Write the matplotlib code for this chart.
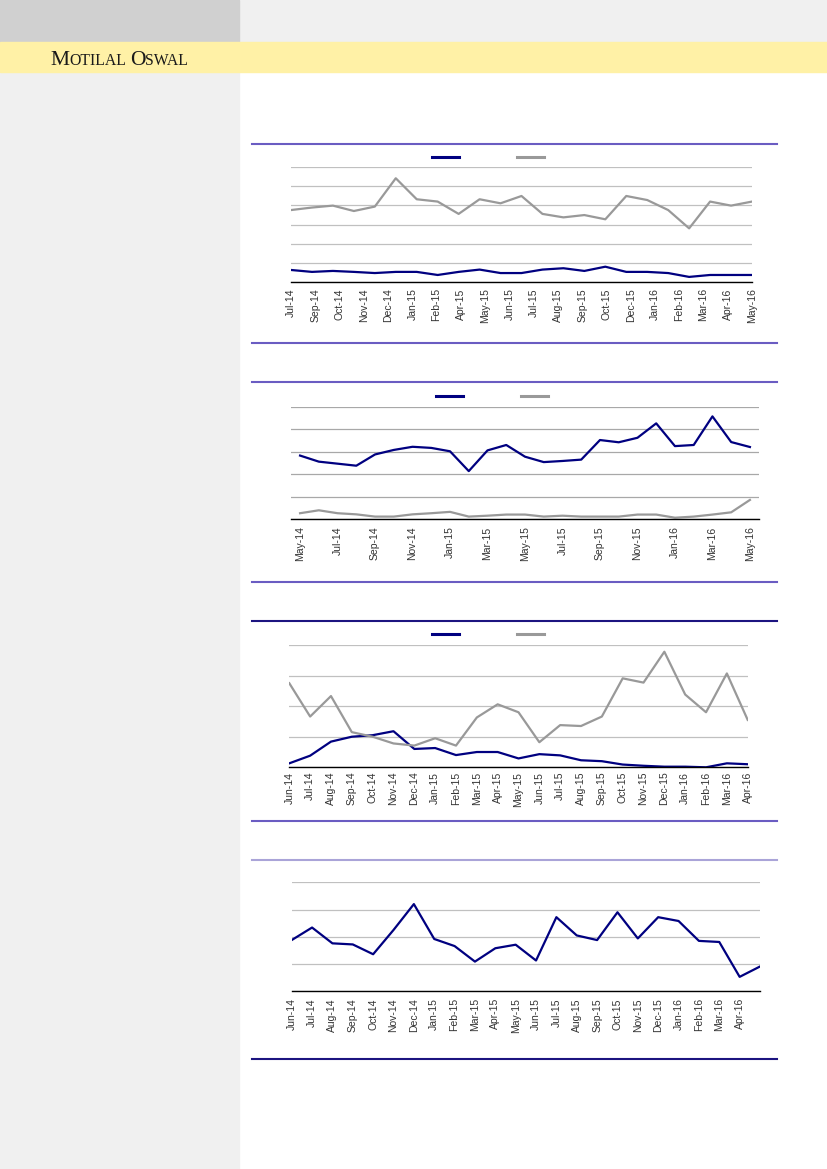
import matplotlib
matplotlib.use("Agg")
import matplotlib.pyplot as plt
from matplotlib.lines import Line2D
from matplotlib.patches import Rectangle
import numpy as np

W, H = 827, 1169

# chart 1 (Jul-14 .. May-16, 23 months)
c1_labels = ["Jul-14", "Sep-14", "Oct-14", "Nov-14", "Dec-14", "Jan-15", "Feb-15",
             "Apr-15", "May-15", "Jun-15", "Jul-15", "Aug-15", "Sep-15", "Oct-15",
             "Dec-15", "Jan-16", "Feb-16", "Mar-16", "Apr-16", "May-16"]
c1_blue = [0.64, 0.54, 0.59, 0.54, 0.48, 0.54, 0.54, 0.38, 0.54, 0.66, 0.48, 0.48,
           0.66, 0.73, 0.59, 0.81, 0.54, 0.54, 0.48, 0.28, 0.38, 0.38, 0.38]
c1_gray = [3.75, 3.88, 3.98, 3.70, 3.93, 5.40, 4.31, 4.19, 3.55, 4.31, 4.10, 4.48,
           3.55, 3.37, 3.49, 3.27, 4.48, 4.27, 3.75, 2.80, 4.19, 3.98, 4.19]

# chart 2 (May-14 .. May-16, 25 months)
c2_labels = ["May-14", "Jul-14", "Sep-14", "Nov-14", "Jan-15", "Mar-15", "May-15",
             "Jul-15", "Sep-15", "Nov-15", "Jan-16", "Mar-16", "May-16"]
c2_blue = [2.83, 2.56, 2.47, 2.38, 2.88, 3.08, 3.22, 3.17, 3.02, 2.14, 3.06, 3.30,
           2.78, 2.54, 2.59, 2.65, 3.52, 3.42, 3.62, 4.26, 3.25, 3.30, 4.57, 3.43, 3.21]
c2_gray = [0.27, 0.40, 0.27, 0.22, 0.12, 0.12, 0.22, 0.27, 0.33, 0.12, 0.16, 0.21,
           0.21, 0.12, 0.16, 0.12, 0.12, 0.12, 0.21, 0.21, 0.07, 0.12, 0.21, 0.31, 0.86]

# chart 3 (Jun-14 .. Apr-16, 23 months)
c3_labels = ["Jun-14", "Jul-14", "Aug-14", "Sep-14", "Oct-14", "Nov-14", "Dec-14",
             "Jan-15", "Feb-15", "Mar-15", "Apr-15", "May-15", "Jun-15", "Jul-15",
             "Aug-15", "Sep-15", "Oct-15", "Nov-15", "Dec-15", "Jan-16", "Feb-16",
             "Mar-16", "Apr-16"]
c3_blue = [0.13, 0.38, 0.84, 1.00, 1.05, 1.18, 0.60, 0.63, 0.40, 0.50, 0.50, 0.29,
           0.43, 0.39, 0.23, 0.20, 0.09, 0.05, 0.02, 0.02, 0.00, 0.13, 0.10]
c3_gray = [2.75, 1.66, 2.33, 1.15, 1.00, 0.78, 0.71, 0.95, 0.71, 1.63, 2.06, 1.80,
           0.82, 1.38, 1.35, 1.66, 2.91, 2.77, 3.78, 2.38, 1.80, 3.07, 1.55]

# chart 4 (Jun-14 .. May-16, 24 months, last one unlabeled)
c4_labels = c3_labels
c4_blue = [1.88, 2.34, 1.76, 1.72, 1.36, 2.25, 3.20, 1.92, 1.66, 1.09, 1.58, 1.71,
           1.13, 2.72, 2.05, 1.88, 2.90, 1.94, 2.72, 2.58, 1.85, 1.81, 0.53, 0.91]

NAVY = "#000080"
GRAY = "#999999"
SLATE = "#6a5cc2"
DARK = "#1c1480"
LIGHT = "#aaa4d8"


def box(x0, y0, x1, y1):
    """pixel box (top-left origin) -> figure rect"""
    return [x0 / W, 1 - y1 / H, (x1 - x0) / W, (y1 - y0) / H]


def rule(fig, y, color):
    fig.add_artist(Line2D([252 / W, 777 / W], [1 - y / H, 1 - y / H],
                          color=color, lw=1.5, transform=fig.transFigure))


def style_axes(ax, ymax, grid_color, pad):
    ax.set_ylim(0, ymax)
    ax.set_yticks(np.arange(0, ymax + 1))
    ax.yaxis.grid(True, color=grid_color, lw=0.9)
    ax.set_axisbelow(True)
    ax.tick_params(axis="y", left=False, labelleft=False)
    ax.tick_params(axis="x", length=0, pad=pad, labelrotation=90,
                   labelsize=7.5, labelcolor="#333333")
    for s in ["top", "right", "left"]:
        ax.spines[s].set_visible(False)
    ax.spines["bottom"].set_color("black")
    ax.spines["bottom"].set_linewidth(1.0)
    ax.patch.set_alpha(0)


def add_legend(ax, fig, cx, cy):
    h = [Line2D([], [], color=NAVY, lw=2.2), Line2D([], [], color=GRAY, lw=2.2)]
    ax.legend(h, ["", ""], ncol=2, frameon=False, loc="center",
              bbox_to_anchor=(cx / W, 1 - cy / H), bbox_transform=fig.transFigure,
              handlelength=2.8, handletextpad=0, columnspacing=5.9, fontsize=7)


plt.rcParams["font.family"] = ["Liberation Sans", "DejaVu Sans"]
fig = plt.figure(figsize=(W / 100, H / 100), dpi=100)

# page background
fig.patches.append(Rectangle((0, 0), 239 / W, 1, transform=fig.transFigure,
                             color="#f0f0f0", zorder=-10))
fig.patches.append(Rectangle((0, 1 - 42 / H), 1, 42 / H, transform=fig.transFigure,
                             color="#f0f0f0", zorder=-9))
fig.patches.append(Rectangle((0, 1 - 42 / H), 239 / W, 42 / H, transform=fig.transFigure,
                             color="#d0d0d0", zorder=-8))
fig.patches.append(Rectangle((0, 1 - 72 / H), 1, 30 / H, transform=fig.transFigure,
                             color="#fff1a6", zorder=-7))

# small caps brand
renderer = fig.canvas.get_renderer()
x = 50 / W
for txt, size in [("M", 15.5), ("OTILAL", 11.3), (" ", 11.3), ("O", 15.5), ("SWAL", 11.3)]:
    t = fig.text(x, 1 - 65 / H, txt, fontsize=size, family="Liberation Serif",
                 color="#1a1a1a", va="baseline", ha="left")
    bb = t.get_window_extent(renderer)
    x += bb.width / W if txt != " " else 4 / W

# chart 1
ax1 = fig.add_axes(box(291, 166.7, 752, 282.3))
n1 = np.arange(len(c1_blue))
ax1.plot(n1, c1_blue, color=NAVY, lw=1.6)
ax1.plot(n1, c1_gray, color=GRAY, lw=1.6)
ax1.set_xlim(0, len(c1_blue) - 1)
ax1.set_xticks(np.linspace(0, len(c1_blue) - 1, len(c1_labels)))
ax1.set_xticklabels(c1_labels)
style_axes(ax1, 6, "#c0c0c0", 4.3)
add_legend(ax1, fig, 488, 157.3)
rule(fig, 144, SLATE)
rule(fig, 343, SLATE)

# chart 2
ax2 = fig.add_axes(box(290.7, 406.7, 759.3, 519.3))
n2 = np.arange(len(c2_blue))
ax2.plot(n2, c2_blue, color=NAVY, lw=1.6)
ax2.plot(n2, c2_gray, color=GRAY, lw=1.6)
ax2.set_xlim(-0.5, len(c2_blue) - 0.5)
ax2.set_xticks(n2[::2])
ax2.set_xticklabels(c2_labels)
style_axes(ax2, 5, "#a8a8a8", 5.2)
add_legend(ax2, fig, 492, 396.7)
rule(fig, 382, SLATE)
rule(fig, 582, SLATE)

# chart 3
ax3 = fig.add_axes(box(289.3, 645, 747.7, 767.3))
n3 = np.arange(len(c3_blue))
ax3.plot(n3, c3_blue, color=NAVY, lw=1.6)
ax3.plot(n3, c3_gray, color=GRAY, lw=1.6)
ax3.set_xlim(0, len(c3_blue) - 1)
ax3.set_xticks(n3)
ax3.set_xticklabels(c3_labels)
style_axes(ax3, 4, "#c0c0c0", 3.2)
add_legend(ax3, fig, 488, 634.3)
rule(fig, 621, DARK)
rule(fig, 821, SLATE)

# chart 4
ax4 = fig.add_axes(box(291.7, 882.3, 760, 991.3))
n4 = np.arange(len(c4_blue))
ax4.plot(n4, c4_blue, color=NAVY, lw=1.6)
ax4.set_xlim(0, len(c4_blue) - 1)
ax4.set_xticks(np.arange(len(c4_labels)))
ax4.set_xticklabels(c4_labels)
style_axes(ax4, 4, "#c0c0c0", 5)
rule(fig, 860, LIGHT)
rule(fig, 1059, DARK)

fig.savefig("out.png", dpi=100)
